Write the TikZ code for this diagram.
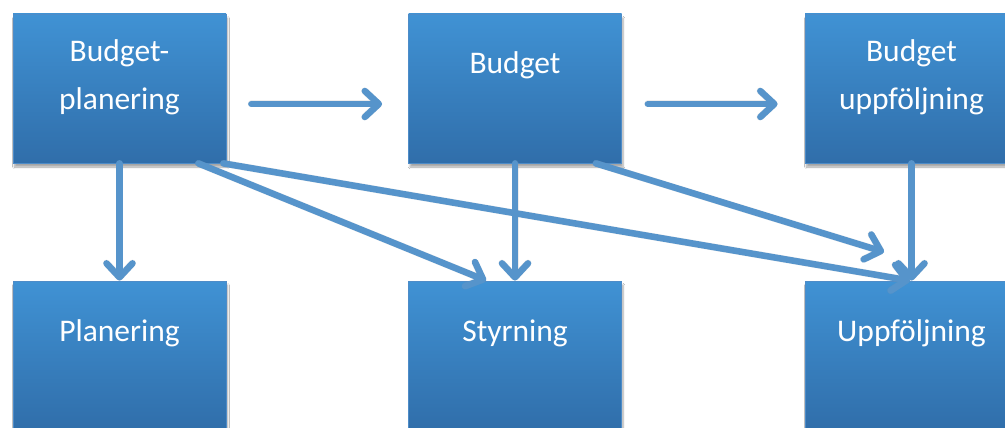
\documentclass[tikz,border=0pt]{standalone}
\usepackage{fontspec}
\setmainfont{Carlito}
\usetikzlibrary{arrows.meta,calc,shadows.blur}

\definecolor{boxtop}{RGB}{64,146,212}
\definecolor{boxbot}{RGB}{48,110,170}
\definecolor{boxedge}{RGB}{78,140,200}
\definecolor{flow}{RGB}{86,148,203}

\tikzset{
  stage/.style={rectangle, minimum width=213pt, minimum height=149pt, inner sep=0pt,
    top color=boxtop, bottom color=boxbot, draw=boxedge, line width=0.8pt,
    blur shadow={shadow xshift=1.5pt, shadow yshift=-4pt, shadow blur steps=6, shadow opacity=35}},
  caption/.style={text=white, inner sep=0pt, anchor=base,
    font=\fontsize{31.5}{48}\selectfont},
  flowline/.style={draw=flow, line width=6.5pt, line cap=round,
    -{Straight Barb[length=14pt, width=26pt, line cap=round, line join=round]}},
  flowshade/.style={draw=black!40, opacity=0.18, line width=7pt, line cap=round,
    -{Straight Barb[length=14pt, width=26pt, line cap=round, line join=round]}},
}

\newcommand{\twolines}[2]{\begin{tabular}[t]{@{}c@{}}#1\\#2\end{tabular}}

\begin{document}
\begin{tikzpicture}[x=1pt, y=-1pt]
  \useasboundingbox (0,0) rectangle (1005,428);
  \fill[white] (0,0) rectangle (1005,428);

  % stage boxes
  \node[stage] (bplan) at (119.5,88.5) {};
  \node[stage] (budget) at (515,88.5) {};
  \node[stage] (bfollow) at (911.5,88.5) {};
  \node[stage] (plan) at (119.5,355.5) {};
  \node[stage] (steer) at (515,355.5) {};
  \node[stage] (follow) at (911.5,355.5) {};

  % captions
  \node[caption] (tbplan) at ($(bplan.north)+(0,48)$) {\twolines{Budget-}{planering}};
  \node[caption] (tbudget) at ($(budget.north)+(0,60)$) {Budget};
  \node[caption] (tbfollow) at ($(bfollow.north)+(0,48)$) {\twolines{Budget}{uppföljning}};
  \node[caption] (tplan) at ($(plan.north)+(0,61)$) {Planering};
  \node[caption] (tsteer) at ($(steer.north)+(0,61)$) {Styrning};
  \node[caption] (tfollow) at ($(follow.north)+(0,61)$) {Uppföljning};

  \coordinate (stop) at (884,252);

  % connectors: faint shadow first, then the lines themselves
  \foreach \sty/\dx/\dy in {flowshade/1.5/4, flowline/0/0}{
    \begin{scope}[shift={(\dx,\dy)}]
      \draw[\sty, shorten <=25pt, shorten >=26pt]
        ($(bplan.east)+(0,15.5)$) -- ($(budget.west)+(0,15.5)$);
      \draw[\sty, shorten <=26pt, shorten >=27pt]
        ($(budget.east)+(0,15.5)$) -- ($(bfollow.west)+(0,15.5)$);
      \draw[\sty] (bplan.south) -- (plan.north);
      \draw[\sty] (budget.south) -- (steer.north);
      \draw[\sty] (bfollow.south) -- (follow.north);
      \draw[\sty] ([xshift=-28pt]bplan.south east) -- ([xshift=78pt]steer.north west);
      \draw[\sty] ([xshift=-3pt]bplan.south east) -- ([xshift=-1.5pt]follow.north);
      \draw[\sty] ([xshift=-26pt]budget.south east) -- (stop);
    \end{scope}
  }
\end{tikzpicture}
\end{document}
